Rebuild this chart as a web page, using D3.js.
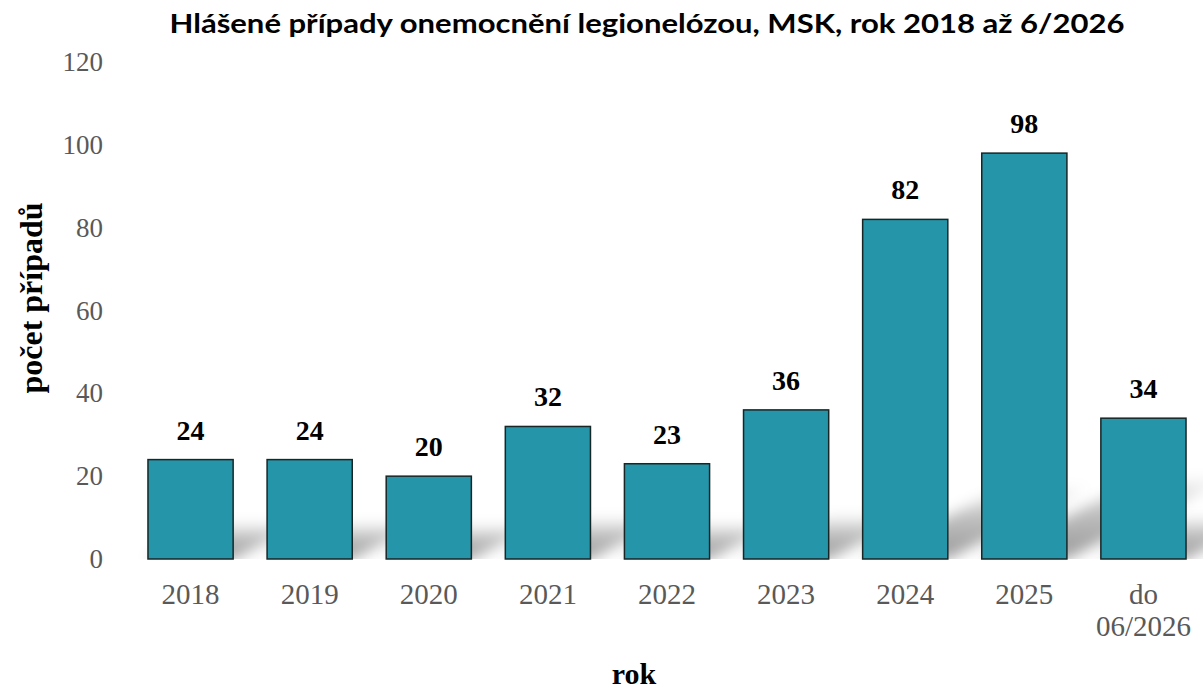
<!DOCTYPE html>
<html>
<head>
<meta charset="utf-8">
<script src="https://cdn.jsdelivr.net/npm/d3@7"></script>
<style>
  body { margin: 0; background: #fff; }
  svg { display: block; }
</style>
</head>
<body>
<svg id="chart" width="1203" height="693"></svg>
<script>
// data
var categories = ["2018", "2019", "2020", "2021", "2022", "2023", "2024", "2025", "do\n06/2026"];
var cases = [24, 24, 20, 32, 23, 36, 82, 98, 34];
var yTicks = [0, 20, 40, 60, 80, 100, 120];

var svg = d3.select("#chart"),
    margin = {top: 62, right: 0, bottom: 134, left: 131},
    width = 1203 - margin.left - margin.right,
    height = 693 - margin.top - margin.bottom;

var serif = "'Liberation Serif', 'Times New Roman', serif";

var x = d3.scaleBand()
    .domain(categories)
    .range([margin.left, margin.left + width])
    .paddingInner(0.285)
    .paddingOuter(0.1425);

var y = d3.scaleLinear()
    .domain([0, 120])
    .range([margin.top + height, margin.top]);

var defs = svg.append("defs");
defs.append("filter")
    .attr("id", "blur")
    .attr("x", "-30%").attr("y", "-30%")
    .attr("width", "160%").attr("height", "160%")
  .append("feGaussianBlur")
    .attr("stdDeviation", 7);

var grad = defs.append("linearGradient")
    .attr("id", "shade")
    .attr("x1", 0).attr("y1", 1).attr("x2", 0).attr("y2", 0);
grad.append("stop").attr("offset", "0%").attr("stop-color", "#000").attr("stop-opacity", 0.4);
grad.append("stop").attr("offset", "60%").attr("stop-color", "#000").attr("stop-opacity", 0.24);
grad.append("stop").attr("offset", "100%").attr("stop-color", "#000").attr("stop-opacity", 0.0);

defs.append("clipPath").attr("id", "aboveBase")
  .append("rect")
    .attr("x", 0).attr("y", 0)
    .attr("width", 1203).attr("height", y(0));

// perspective shadow behind the bars
var shadowG = svg.append("g").attr("clip-path", "url(#aboveBase)");
shadowG.selectAll("path")
    .data(cases)
    .enter().append("path")
      .attr("d", function(d, i) {
        var x0 = x(categories[i]), w = x.bandwidth(), b = y(0), h = b - y(d);
        var dy = 22 + h * 0.15, dx = dy * 2;
        return "M" + x0 + "," + b + "L" + (x0 + w) + "," + b +
               "L" + (x0 + w + dx) + "," + (b - dy) + "L" + (x0 + dx) + "," + (b - dy) + "Z";
      })
      .attr("fill", "url(#shade)")
      .attr("filter", "url(#blur)");

// bars
svg.append("g").selectAll("rect")
    .data(cases)
    .enter().append("rect")
      .attr("x", function(d, i) { return x(categories[i]); })
      .attr("y", function(d) { return y(d); })
      .attr("width", x.bandwidth())
      .attr("height", function(d) { return y(0) - y(d); })
      .attr("fill", "#2595a9")
      .attr("stroke", "#182626")
      .attr("stroke-width", 1.5);

// value labels
svg.append("g").selectAll("text")
    .data(cases)
    .enter().append("text")
      .attr("x", function(d, i) { return x(categories[i]) + x.bandwidth() / 2; })
      .attr("y", function(d) { return y(d) - 20; })
      .attr("text-anchor", "middle")
      .attr("font-family", serif)
      .attr("font-weight", "bold")
      .attr("font-size", 28)
      .attr("fill", "#000")
      .text(function(d) { return d; });

// y axis (labels only)
var yAxis = svg.append("g")
    .attr("transform", "translate(" + (margin.left - 28) + ",0)")
    .call(d3.axisLeft(y).tickValues(yTicks).tickSize(0).tickPadding(0));
yAxis.select(".domain").remove();
yAxis.selectAll("text")
    .attr("font-family", serif)
    .attr("font-size", 27)
    .attr("fill", "#595959");

// x axis (labels only)
var xAxis = svg.append("g")
    .attr("transform", "translate(0," + y(0) + ")")
    .call(d3.axisBottom(x).tickSize(0).tickPadding(0));
xAxis.select(".domain").remove();
xAxis.selectAll("text").remove();
xAxis.selectAll(".tick").append("text")
    .attr("text-anchor", "middle")
    .attr("font-family", serif)
    .attr("font-size", 29)
    .attr("fill", "#595959")
    .each(function(d) {
      var t = d3.select(this);
      d.split("\n").forEach(function(line, k) {
        t.append("tspan").attr("x", 0).attr("y", 45 + k * 32).text(line);
      });
    });

// axis titles
svg.append("text")
    .attr("transform", "translate(42,298) rotate(-90)")
    .attr("text-anchor", "middle")
    .attr("font-family", serif)
    .attr("font-weight", "bold")
    .attr("font-size", 32)
    .attr("fill", "#000")
    .text("počet případů");

svg.append("text")
    .attr("x", 634)
    .attr("y", 684)
    .attr("text-anchor", "middle")
    .attr("font-family", serif)
    .attr("font-weight", "bold")
    .attr("font-size", 30)
    .attr("fill", "#000")
    .text("rok");

// chart title
svg.append("text")
    .attr("x", 647)
    .attr("y", 33)
    .attr("text-anchor", "middle")
    .attr("font-family", "Lato, 'Open Sans', sans-serif")
    .attr("font-weight", "bold")
    .attr("font-size", 27)
    .attr("textLength", 955)
    .attr("lengthAdjust", "spacingAndGlyphs")
    .attr("fill", "#000")
    .text("Hlášené případy onemocnění legionelózou, MSK, rok 2018 až 6/2026");
</script>
</body>
</html>
